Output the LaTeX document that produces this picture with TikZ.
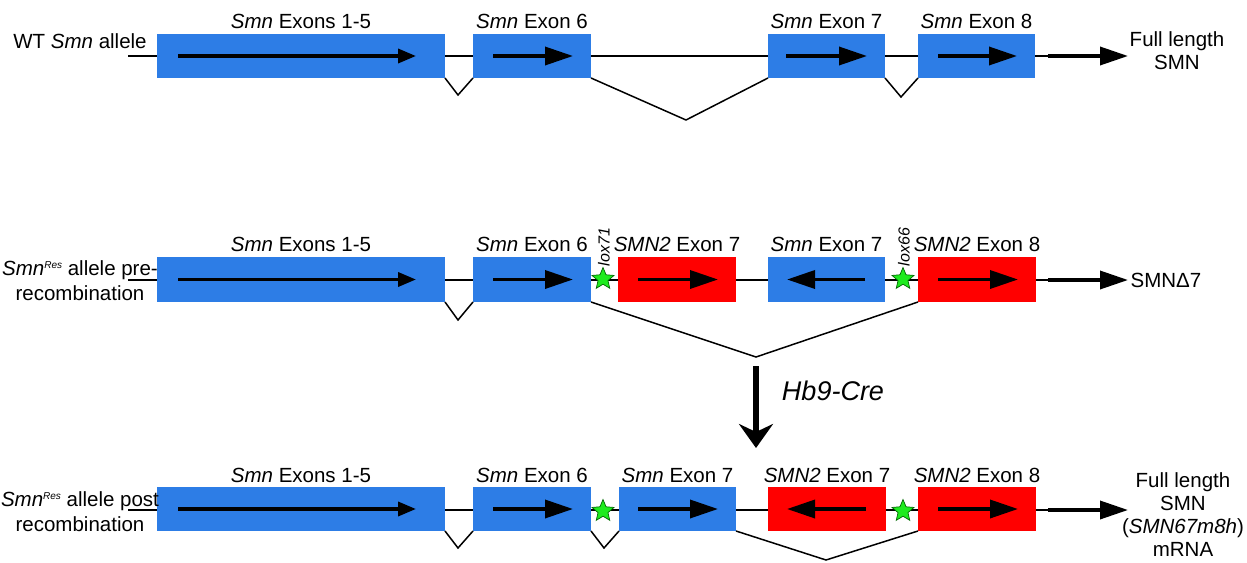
\documentclass[tikz,border=0pt]{standalone}
\usepackage{fontspec}
\setmainfont{Liberation Sans}
\usetikzlibrary{arrows.meta,shapes.geometric}
\definecolor{exblue}{RGB}{45,125,230}
\definecolor{exred}{RGB}{255,0,0}
\definecolor{loxgreen}{RGB}{30,235,30}
\newcommand\resup{\raisebox{7pt}{\fontsize{10}{10}\selectfont\itshape Res}}
\begin{document}
\begin{tikzpicture}[x=1pt,y=-1pt,
  every node/.style={inner sep=0pt, outer sep=0pt},
  txt/.style={font=\fontsize{20.5}{25}\selectfont, align=center},
  rtxt/.style={font=\fontsize{20.5}{23}\selectfont, align=center},
  exlab/.style={font=\fontsize{20.5}{25}\selectfont, anchor=base},
  bex/.style={fill=exblue, minimum height=44pt, minimum width=#1},
  rex/.style={fill=exred, minimum height=44pt, minimum width=#1},
  backbone/.style={line width=1.5pt},
  splice/.style={line width=1.5pt, line join=miter},
  inarrow/.style={line width=3.5pt, -{Triangle[length=28pt,width=18pt]}},
  inarrowsm/.style={line width=3.5pt, -{Triangle[length=18pt,width=14pt]}},
  outarrow/.style={line width=3.5pt, -{Triangle[length=28pt,width=18pt]}},
  lox/.style={star, star points=5, star point ratio=2.2, fill=loxgreen, draw=black!60!green, line width=0.7pt, minimum size=23pt},
  loxlab/.style={rotate=90, font=\fontsize{16}{16}\selectfont\itshape}
]
\useasboundingbox (0,0) rectangle (1247,562);

% ---------- Row 1: WT ----------
\coordinate (s1) at (128,56);
\coordinate (o1) at (1048,56);
\coordinate (t1) at (1128,56);
\draw[backbone] (s1) -- (o1);
\node[bex=288pt] (e11) at (301,56) {};
\node[bex=118pt] (e12) at (532,56) {};
\node[bex=117pt] (e13) at (826.5,56) {};
\node[bex=117pt] (e14) at (976.5,56) {};
\draw[outarrow] (o1) -- (t1);
\draw[inarrowsm] ([xshift=21pt]e11.west) -- ([xshift=-29pt]e11.east);
\draw[inarrow] ([xshift=20pt]e12.west) -- ([xshift=-18pt]e12.east);
\draw[inarrow] ([xshift=18pt]e13.west) -- ([xshift=-18pt]e13.east);
\draw[inarrow] ([xshift=20pt]e14.west) -- ([xshift=-18pt]e14.east);
\coordinate (v11) at (458,95);
\coordinate (v12) at (686,120);
\coordinate (v13) at (901,97);
\draw[splice] (e11.south east) -- (v11) -- (e12.south west);
\draw[splice] (e12.south east) -- (v12) -- (e13.south west);
\draw[splice] (e13.south east) -- (v13) -- (e14.south west);
\node[exlab] (l11) at ([yshift=6pt]e11.north) {\textit{Smn} Exons 1-5};
\node[exlab] (l12) at ([yshift=6pt]e12.north) {\textit{Smn} Exon 6};
\node[exlab] (l13) at ([yshift=6pt]e13.north) {\textit{Smn} Exon 7};
\node[exlab] (l14) at ([yshift=6pt]e14.north) {\textit{Smn} Exon 8};
\node[txt] (wt) at (80,41) {WT \textit{Smn} allele};
\node[rtxt] (fl1) at (1177,51) {Full length\\SMN};

% ---------- Row 2: pre-recombination ----------
\coordinate (s2) at (128,280);
\coordinate (o2) at (1048,280);
\coordinate (t2) at (1128,280);
\draw[backbone] (s2) -- (o2);
\node[bex=288pt, minimum height=45pt] (e21) at (301,279.5) {};
\node[bex=118pt, minimum height=45pt] (e22) at (532,279.5) {};
\node[rex=118pt, minimum height=45pt] (e23) at (677,279.5) {};
\node[bex=117pt, minimum height=45pt] (e24) at (826.5,279.5) {};
\node[rex=118pt, minimum height=45pt] (e25) at (977,279.5) {};
\draw[outarrow] (o2) -- (t2);
\draw[inarrowsm] ([xshift=21pt]e21.west) -- ([xshift=-29pt]e21.east);
\draw[inarrow] ([xshift=20pt]e22.west) -- ([xshift=-18pt]e22.east);
\draw[inarrow] ([xshift=20pt]e23.west) -- ([xshift=-18pt]e23.east);
\draw[inarrow] ([xshift=-20pt]e24.east) -- ([xshift=19pt]e24.west);
\draw[inarrow] ([xshift=20pt]e25.west) -- ([xshift=-18pt]e25.east);
\node[lox] (x21) at (603,279) {};
\node[lox] (x22) at (903,279) {};
\node[loxlab] (lx21) at (604,247) {lox71};
\node[loxlab] (lx22) at (904,247) {lox66};
\coordinate (v21) at (458,320);
\coordinate (v22) at (756,357);
\draw[splice] (e21.south east) -- (v21) -- (e22.south west);
\draw[splice] (e22.south east) -- (v22) -- (e25.south west);
\node[exlab] (l21) at ([yshift=5.5pt]e21.north) {\textit{Smn} Exons 1-5};
\node[exlab] (l22) at ([yshift=5.5pt]e22.north) {\textit{Smn} Exon 6};
\node[exlab] (l23) at ([yshift=5.5pt]e23.north) {\textit{SMN2} Exon 7};
\node[exlab] (l24) at ([yshift=5.5pt]e24.north) {\textit{Smn} Exon 7};
\node[exlab] (l25) at ([yshift=5.5pt]e25.north) {\textit{SMN2} Exon 8};
\node[txt] (pre) at (80,281) {\textit{Smn}\resup{} allele pre-\\recombination};
\node[rtxt] (d7) at (1166,280) {SMNΔ7};

% ---------- Cre arrow ----------
\coordinate (c1) at (756,366);
\coordinate (c2) at (756,448);
\draw[line width=6pt, -{Stealth[length=24pt,width=34pt,inset=8pt]}] (c1) -- (c2);
\node[font=\fontsize{27}{27}\selectfont\itshape] (cre) at (833,391) {Hb9-Cre};

% ---------- Row 3: post-recombination ----------
\coordinate (s3) at (128,510);
\coordinate (o3) at (1048,510);
\coordinate (t3) at (1128,510);
\draw[backbone] (s3) -- (o3);
\node[bex=288pt] (e31) at (301,509) {};
\node[bex=118pt] (e32) at (532,509) {};
\node[bex=117pt] (e33) at (677.5,509) {};
\node[rex=118pt] (e34) at (827,509) {};
\node[rex=118pt] (e35) at (977,509) {};
\draw[outarrow] (o3) -- (t3);
\draw[inarrowsm] ([xshift=21pt]e31.west) -- ([xshift=-29pt]e31.east);
\draw[inarrow] ([xshift=20pt]e32.west) -- ([xshift=-18pt]e32.east);
\draw[inarrow] ([xshift=19pt]e33.west) -- ([xshift=-18pt]e33.east);
\draw[inarrow] ([xshift=-20pt]e34.east) -- ([xshift=19pt]e34.west);
\draw[inarrow] ([xshift=20pt]e35.west) -- ([xshift=-18pt]e35.east);
\node[lox] (x31) at (603,511) {};
\node[lox] (x32) at (903,511) {};
\coordinate (v31) at (458,548);
\coordinate (v32) at (604,548);
\coordinate (v33) at (826,560);
\draw[splice] (e31.south east) -- (v31) -- (e32.south west);
\draw[splice] (e32.south east) -- (v32) -- (e33.south west);
\draw[splice] (e33.south east) -- (v33) -- (e35.south west);
\node[exlab] (l31) at ([yshift=5pt]e31.north) {\textit{Smn} Exons 1-5};
\node[exlab] (l32) at ([yshift=5pt]e32.north) {\textit{Smn} Exon 6};
\node[exlab] (l33) at ([yshift=5pt]e33.north) {\textit{Smn} Exon 7};
\node[exlab] (l34) at ([yshift=5pt]e34.north) {\textit{SMN2} Exon 7};
\node[exlab] (l35) at ([yshift=5pt]e35.north) {\textit{SMN2} Exon 8};
\node[txt] (post) at (80,512) {\textit{Smn}\resup{} allele post\\recombination};
\node[rtxt] (fl3) at (1183,515) {Full length\\SMN\\(\textit{SMN67m8h})\\mRNA};
\end{tikzpicture}
\end{document}
